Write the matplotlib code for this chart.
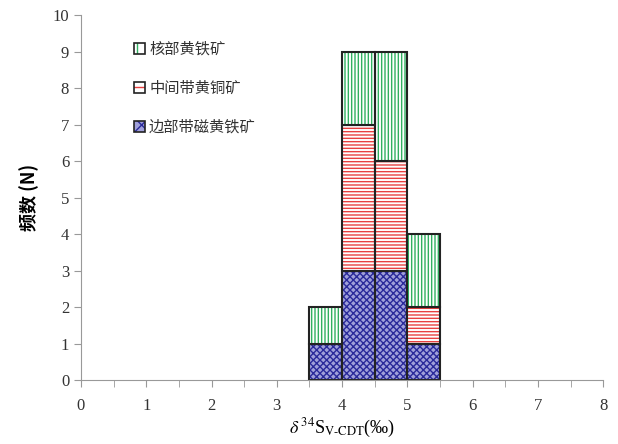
import matplotlib.pyplot as plt
import matplotlib.patches as mpatches
import numpy as np

plt.rcParams['font.family'] = ['Liberation Serif', 'Noto Sans CJK SC']
plt.rcParams['mathtext.fontset'] = 'stix'
plt.rcParams['hatch.linewidth'] = 1.0

# bin left edges (width 0.5)
bin_left = [3.5, 4.0, 4.5, 5.0]
outer = [1, 3, 3, 1]      # 边部带磁黄铁矿
middle = [0, 4, 3, 1]     # 中间带黄铜矿
core = [1, 2, 3, 2]       # 核部黄铁矿
labels = ['核部黄铁矿', '中间带黄铜矿', '边部带磁黄铁矿']

fig = plt.figure(figsize=(6.18, 4.44), dpi=100)
ax = fig.add_axes([0.131, 0.144, 0.845, 0.822])

x = np.array(bin_left)
w = 0.5
bottom = np.zeros(len(x))
styles = [
    (outer, '#a0a0da', '#2a2a9a', 'xxxxx'),
    (middle, 'white', '#e84040', '-----'),
    (core, 'white', '#30b060', '|||||'),
]
for vals, fc, hc, hatch in styles:
    vals = np.array(vals)
    ax.bar(x, vals, width=w, bottom=bottom, align='edge', color=fc,
           edgecolor=hc, hatch=hatch, linewidth=0)
    ax.bar(x, vals, width=w, bottom=bottom, align='edge', fill=False,
           edgecolor='#222222', linewidth=1.5)
    bottom = bottom + vals

ax.set_xlim(0, 8)
ax.set_ylim(0, 10)
ax.set_xticks(range(9))
ax.set_xticks(np.arange(0, 8.01, 0.5), minor=True)
ax.set_yticks(range(11))
ax.tick_params(axis='both', which='both', direction='out', color='#999999',
               labelsize=12, labelcolor='#333333', length=5)
ax.tick_params(axis='x', pad=8)
for s in ['top', 'right']:
    ax.spines[s].set_visible(False)
for s in ['left', 'bottom']:
    ax.spines[s].set_color('#999999')

ax.set_xlabel(r'$\delta^{\,34}$S$_{\mathrm{V\text{-}CDT}}$(‰)', fontsize=13, labelpad=2)
ax.set_ylabel('频数 (N)', fontsize=13, family=['Noto Sans CJK SC'],
              fontweight='bold', labelpad=10)

handles = []
for fc, hc, hatch in [('white', '#30b060', '||'), ('white', '#e84040', '--'),
                      ('#a0a0da', '#2a2a9a', 'xx')]:
    inner = mpatches.Patch(facecolor=fc, edgecolor=hc, hatch=hatch, linewidth=0)
    frame = mpatches.Patch(fill=False, edgecolor='#222222', linewidth=1.2)
    handles.append((inner, frame))
leg = ax.legend(handles, labels, loc='upper left', bbox_to_anchor=(0.075, 0.968),
                frameon=False, handlelength=0.7, handleheight=0.7,
                handletextpad=0.3, labelspacing=1.45,
                prop={'family': 'Noto Sans CJK SC', 'size': 11})
for t in leg.get_texts():
    t.set_color('#333333')

fig.savefig('out.png', dpi=100)
